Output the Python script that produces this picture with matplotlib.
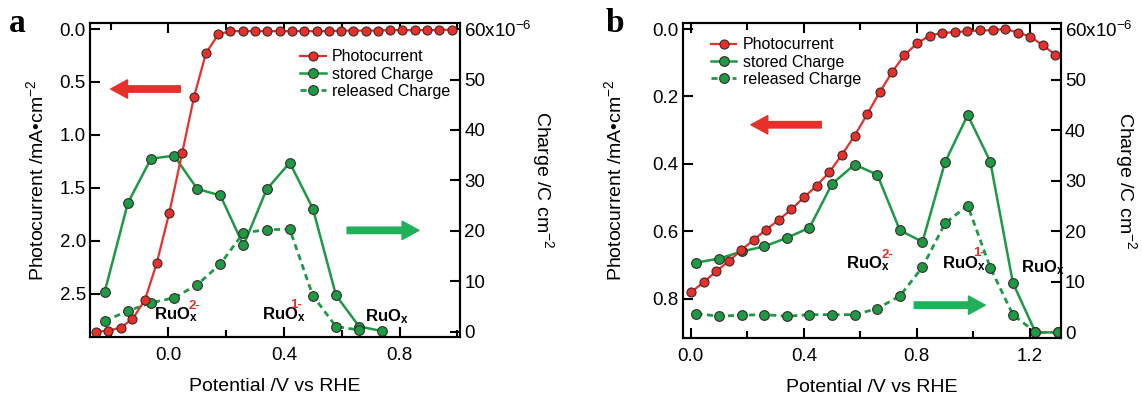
import matplotlib
matplotlib.use("Agg")
import matplotlib.pyplot as plt
from matplotlib.ticker import MultipleLocator, FormatStrFormatter

plt.rcParams['font.family'] = ['Liberation Sans', 'DejaVu Sans']
plt.rcParams['mathtext.fontset'] = 'custom'
plt.rcParams['mathtext.rm'] = 'Liberation Sans'
plt.rcParams['mathtext.it'] = 'Liberation Sans'
plt.rcParams['mathtext.bf'] = 'Liberation Sans:bold'

# ---- panel a data ----
a_photo_x = [-0.25, -0.208, -0.165, -0.124, -0.081, -0.04, 0.003, 0.048, 0.089, 0.13,
             0.173, 0.215, 0.258, 0.30, 0.343, 0.386, 0.428, 0.47, 0.513, 0.556,
             0.598, 0.64, 0.683, 0.726, 0.768, 0.81, 0.853, 0.896, 0.938, 0.98]
a_photo_y = [2.86, 2.85, 2.82, 2.74, 2.56, 2.21, 1.74, 1.17, 0.64, 0.23,
             0.05, 0.02, 0.02, 0.02, 0.02, 0.02, 0.02, 0.02, 0.02, 0.02,
             0.015, 0.015, 0.015, 0.015, 0.01, 0.01, 0.01, 0.01, 0.01, 0.005]
a_charge_x = [-0.22, -0.14, -0.06, 0.02, 0.10, 0.18, 0.26, 0.34, 0.42, 0.50, 0.58, 0.66, 0.74]
a_stored = [7.9, 25.5, 34.3, 34.9, 28.3, 27.0, 17.1, 28.2, 33.5, 24.4, 7.2, 1.0, 0.1]
a_released = [2.1, 4.1, 5.7, 6.7, 9.3, 13.4, 19.6, 20.2, 20.3, 7.1, 1.0, 0.3]

# ---- panel b data ----
b_photo_x = [0.0, 0.046, 0.090, 0.134, 0.178, 0.223, 0.266, 0.312, 0.356, 0.400,
             0.445, 0.490, 0.535, 0.580, 0.624, 0.668, 0.712, 0.756, 0.801, 0.846,
             0.890, 0.934, 0.978, 1.023, 1.068, 1.112, 1.157, 1.201, 1.246, 1.290]
b_photo_y = [0.782, 0.751, 0.719, 0.689, 0.657, 0.625, 0.596, 0.566, 0.535, 0.500,
             0.465, 0.425, 0.373, 0.316, 0.253, 0.188, 0.128, 0.077, 0.042, 0.019,
             0.011, 0.009, 0.006, 0.004, 0.003, -0.001, 0.010, 0.022, 0.048, 0.076]
b_charge_x = [0.02, 0.10, 0.18, 0.26, 0.34, 0.42, 0.50, 0.58, 0.66, 0.74, 0.82, 0.90,
              0.98, 1.06, 1.14, 1.22, 1.30]
b_stored = [13.8, 14.6, 16.0, 17.0, 18.7, 20.7, 29.4, 33.2, 31.2, 20.2, 17.9, 33.7,
            43.0, 33.8, 9.8, 0.0, 0.0]
b_released = [3.7, 3.2, 3.4, 3.5, 3.2, 3.5, 3.5, 3.5, 4.7, 7.2, 12.9, 21.6,
              25.1, 12.8, 3.5, 0.0, 0.0]

charge_ticks = [0, 10, 20, 30, 40, 50, 60]
charge_labels = ['0', '10', '20', '30', '40', '50', '60x10$^{-6}$']

RED = '#e8302a'
GREEN = '#1c9a45'
ARROW_GREEN = '#20b05a'
EDGE = '#3a2a2a'

fig = plt.figure(figsize=(11.42, 3.98), dpi=100)


def panel(rect, letter, letter_x, px, py, cx, stored, released, xlim, ylim, ystep,
          xmajor, legend_pos, red_arrow, green_arrow, labels, ylab_x, y2lab_x):
    ax = fig.add_axes(rect)
    ax2 = ax.twinx()
    ax.set_zorder(ax2.get_zorder() + 1)
    ax.patch.set_visible(False)

    l1, = ax.plot(px, py, '-o', color=RED, lw=1.6, ms=6.5, mfc=RED, mec=EDGE, mew=0.8,
                  label='Photocurrent')
    l2, = ax2.plot(cx, stored, '-o', color=GREEN, lw=1.8, ms=7, mfc=GREEN, mec=EDGE,
                   mew=0.8, label='stored Charge')
    l3, = ax2.plot(cx[:len(released)], released, 'o', ls=(0, (2.2, 1.6)), color=GREEN,
                   lw=2.0, ms=7, mfc=GREEN, mec=EDGE, mew=0.8, label='released Charge')

    ax.set_xlim(*xlim)
    ax.set_ylim(*ylim)
    ax2.set_ylim(-1.1, 61.2)

    ax.xaxis.set_major_locator(MultipleLocator(xmajor))
    ax.xaxis.set_minor_locator(MultipleLocator(0.2))
    ax.xaxis.set_major_formatter(FormatStrFormatter('%.1f'))
    ax.yaxis.set_major_locator(MultipleLocator(ystep))
    ax.yaxis.set_major_formatter(FormatStrFormatter('%.1f'))
    ax.tick_params(which='both', direction='in', top=True, right=False, width=1.5,
                   labelsize=13.5, pad=3)
    ax.tick_params(axis='x', which='both', pad=7)
    ax.tick_params(which='major', length=7)
    ax.tick_params(which='minor', length=5)
    ax2.set_yticks(charge_ticks)
    ax2.set_yticklabels(charge_labels)
    ax2.tick_params(direction='in', length=7, width=1.5, labelsize=13.5, pad=3)
    for a in (ax, ax2):
        for s in a.spines.values():
            s.set_linewidth(1.5)

    ax.set_xlabel('Potential /V vs RHE', fontsize=14, labelpad=10)
    ax.set_ylabel('Photocurrent /mA\u2022cm$^{-2}$', fontsize=14)
    ax.yaxis.set_label_coords(ylab_x, 0.5)
    ax2.set_ylabel('Charge /C cm$^{-2}$', fontsize=14, rotation=-90, va='bottom')
    ax2.yaxis.set_label_coords(y2lab_x, 0.5)

    ax.legend(handles=[l1, l2, l3], loc='upper left', bbox_to_anchor=legend_pos,
              frameon=False, fontsize=11.5, handlelength=1.6, handletextpad=0.4,
              labelspacing=0.15, borderpad=0, borderaxespad=0)

    ax.annotate('', xy=red_arrow[1], xytext=red_arrow[0], xycoords='axes fraction',
                arrowprops=dict(arrowstyle='simple,head_length=1.1,head_width=1.2,tail_width=0.42',
                                color=RED, shrinkA=0, shrinkB=0, mutation_scale=11))
    ax.annotate('', xy=green_arrow[1], xytext=green_arrow[0], xycoords='axes fraction',
                arrowprops=dict(arrowstyle='simple,head_length=1.1,head_width=1.2,tail_width=0.42',
                                color=ARROW_GREEN, shrinkA=0, shrinkB=0, mutation_scale=11))

    for tx, ty, sup, sx, sy in labels:
        ax2.text(tx, ty, r'RuO$_{\mathbf{x}}$', fontsize=12, fontweight='bold',
                 ha='left', va='center')
        if sup:
            ax2.text(sx, sy, sup, fontsize=9.5, fontweight='bold', color=RED,
                     ha='left', va='center')

    fig.text(letter_x, 0.94, letter, fontsize=24, fontweight='bold',
             family='Liberation Serif', ha='left', va='center')
    return ax, ax2


panel([0.0788, 0.153, 0.324, 0.789], 'a', 0.008,
      a_photo_x, a_photo_y, a_charge_x, a_stored, a_released,
      (-0.271, 1.009), (2.91, -0.056), 0.5, 0.4, (0.568, 0.917),
      ((0.244, 0.79), (0.056, 0.79)), ((0.695, 0.34), (0.889, 0.34)),
      [(-0.05, 3.3, '2-', 0.07, 5.1), (0.325, 3.3, '1-', 0.42, 5.3), (0.68, 2.9, None, 0, 0)],
      -0.115, 1.19)

panel([0.598, 0.151, 0.331, 0.791], 'b', 0.53,
      b_photo_x, b_photo_y, b_charge_x, b_stored, b_released,
      (-0.028, 1.31), (0.917, -0.018), 0.2, 0.4, (0.074, 0.955),
      ((0.366, 0.677), (0.18, 0.677)), ((0.612, 0.104), (0.80, 0.104)),
      [(0.548, 13.5, '2-', 0.675, 15.4), (0.89, 13.5, '1-', 1.0, 15.8), (1.17, 12.9, None, 0, 0)],
      -0.153, 1.138)

fig.savefig('out.png', dpi=100)
